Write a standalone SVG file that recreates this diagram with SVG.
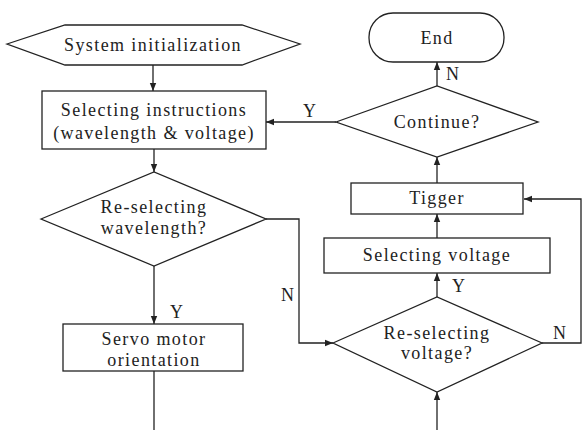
<svg xmlns="http://www.w3.org/2000/svg" width="582" height="430" viewBox="0 0 582 430">
<defs>
<marker id="ah" viewBox="0 0 10 10" refX="10" refY="5" markerWidth="8" markerHeight="8" markerUnits="userSpaceOnUse" orient="auto">
<path d="M0,1 L10,5 L0,9 Z" fill="#222"/>
</marker>
</defs>
<style>
.s{fill:#fff;stroke:#222;stroke-width:1.3}
.c{fill:none;stroke:#222;stroke-width:1.3}
text{font-family:"Liberation Serif","Times New Roman",serif;font-size:18px;fill:#222;letter-spacing:1.4px}
.m{text-anchor:middle}
</style>
<rect width="582" height="430" fill="#fff"/>
<g id="connectors">
<path class="c" d="M153,65 V91" marker-end="url(#ah)"/>
<path class="c" d="M154,149 V172" marker-end="url(#ah)"/>
<path class="c" d="M154,266 V324" marker-end="url(#ah)"/>
<path class="c" d="M154,371 V430"/>
<path class="c" d="M266,219 H299 V343 H333" marker-end="url(#ah)"/>
<path class="c" d="M437,430 V392" marker-end="url(#ah)"/>
<path class="c" d="M437,297 V273" marker-end="url(#ah)"/>
<path class="c" d="M437,238 V214" marker-end="url(#ah)"/>
<path class="c" d="M437,183 V157" marker-end="url(#ah)"/>
<path class="c" d="M542,343 H581 V199 H524" marker-end="url(#ah)"/>
<path class="c" d="M336,122 H266" marker-end="url(#ah)"/>
<path class="c" d="M437,86 V62" marker-end="url(#ah)"/>
<text x="170" y="318">Y</text>
<text x="281" y="301">N</text>
<text x="452" y="292">Y</text>
<text x="553" y="339">N</text>
<text x="303" y="117">Y</text>
<text x="446" y="80">N</text>
</g>
<g id="init">
<polygon class="s" points="7,44 65,25 242,25 300,44 242,65 65,65"/>
<text class="m" x="153" y="51">System initialization</text>
</g>
<g id="select-instr">
<rect class="s" x="42" y="91" width="224" height="58"/>
<text class="m" x="154" y="116">Selecting instructions</text>
<text class="m" x="154" y="139">(wavelength &amp; voltage)</text>
</g>
<g id="reselect-wl">
<polygon class="s" points="41,219 154,172 266,219 154,266"/>
<text class="m" x="154" y="213">Re-selecting</text>
<text class="m" x="154" y="234">wavelength?</text>
</g>
<g id="servo">
<rect class="s" x="63" y="324" width="180" height="47"/>
<text class="m" x="154" y="345">Servo motor</text>
<text class="m" x="154" y="366">orientation</text>
</g>
<g id="reselect-v">
<polygon class="s" points="333,343 437,297 542,343 437,392"/>
<text class="m" x="437" y="339">Re-selecting</text>
<text class="m" x="437" y="359">voltage?</text>
</g>
<g id="select-v">
<rect class="s" x="324" y="238" width="226" height="35"/>
<text class="m" x="437" y="261">Selecting voltage</text>
</g>
<g id="tigger">
<rect class="s" x="351" y="183" width="172" height="31"/>
<text class="m" x="437" y="204">Tigger</text>
</g>
<g id="continue">
<polygon class="s" points="336,122 437,86 538,122 437,157"/>
<text class="m" x="437" y="128">Continue?</text>
</g>
<g id="end">
<rect class="s" x="369" y="13" width="135" height="49" rx="24" ry="24"/>
<text class="m" x="437" y="44">End</text>
</g>
</svg>
